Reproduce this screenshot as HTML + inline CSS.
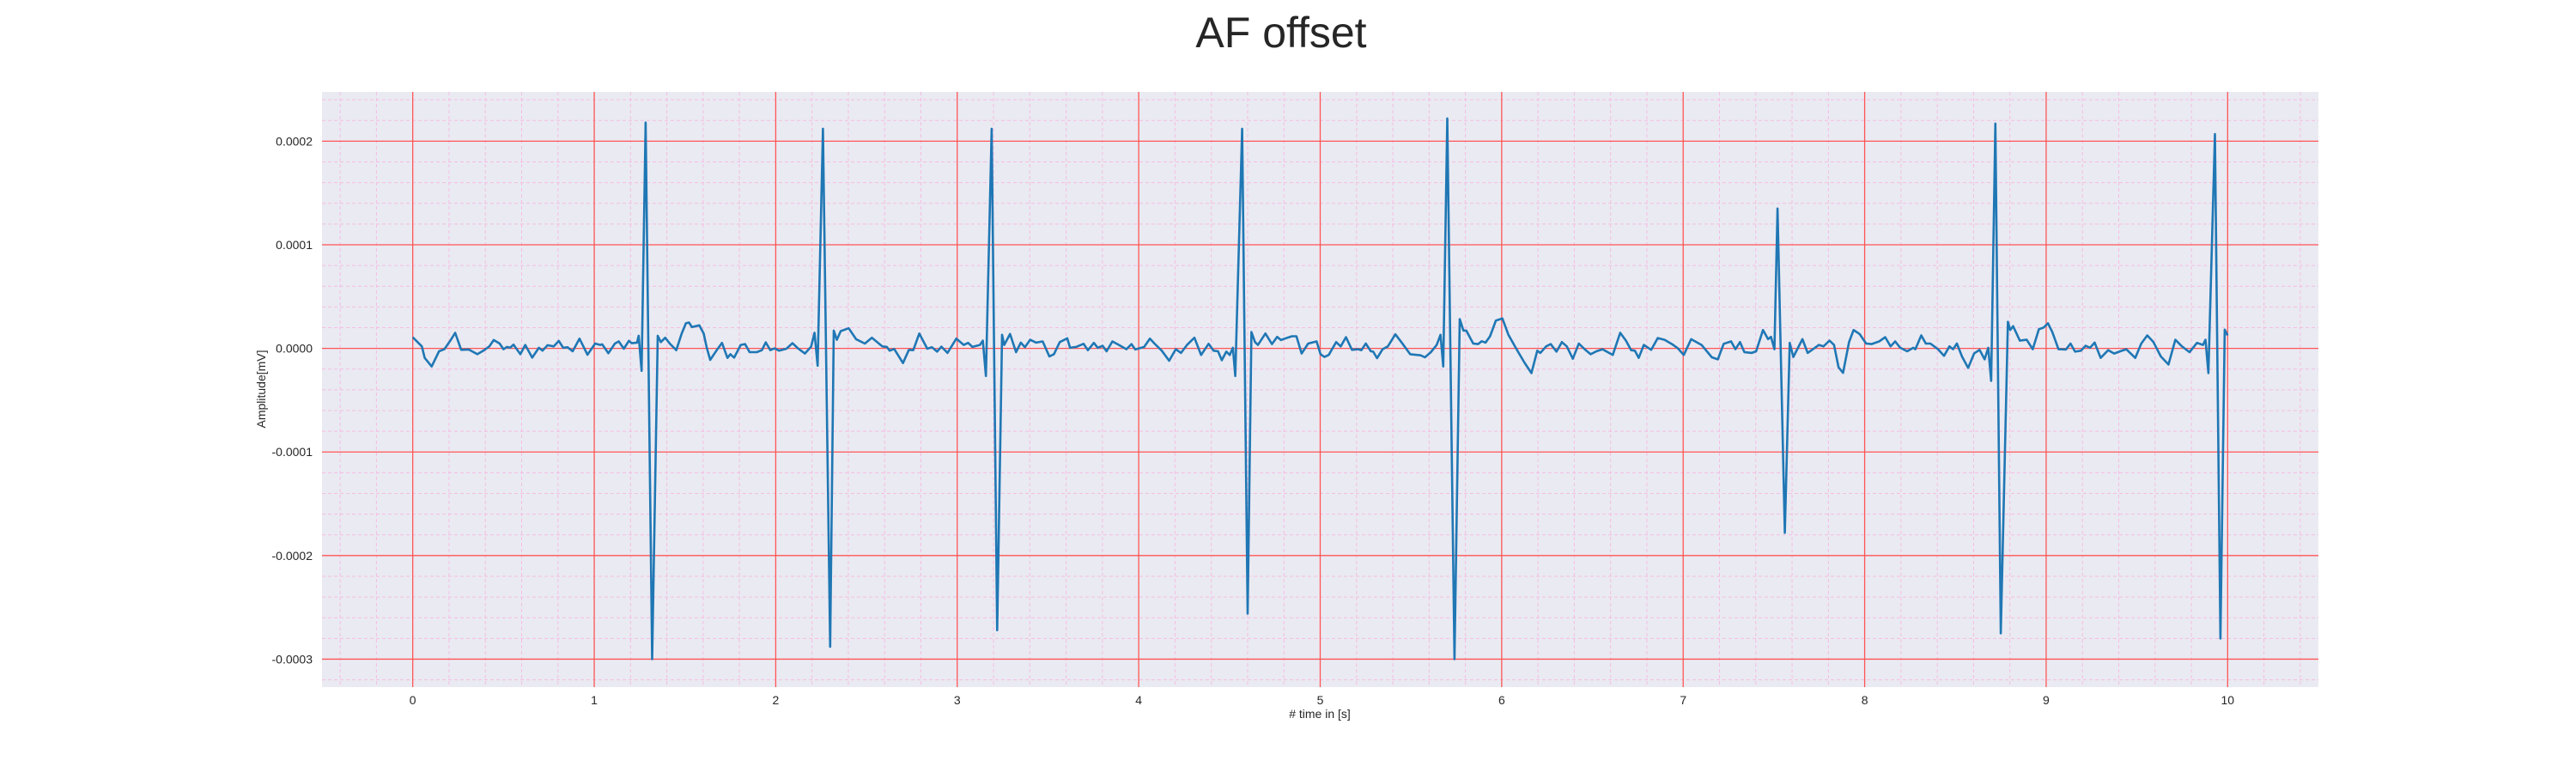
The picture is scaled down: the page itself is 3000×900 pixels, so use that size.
<!DOCTYPE html>
<html><head><meta charset="utf-8"><style>
html,body{margin:0;padding:0;background:#fff;}
svg{display:block;font-family:"Liberation Sans",sans-serif;}
</style></head><body>
<svg id="chart" width="3000" height="900" viewBox="0 0 3000 900">
<text x="1492" y="55" font-size="50" text-anchor="middle" fill="#262626">AF offset</text>
<rect x="375" y="107" width="2325" height="693" fill="#eaeaf2"/>
<g id="grid"></g>
<g id="ticks"></g>
<text x="1537" y="836" font-size="14" text-anchor="middle" fill="#262626"># time in [s]</text>
<text transform="translate(309,453) rotate(-90)" font-size="14" text-anchor="middle" fill="#262626">Amplitude[mV]</text>
<path id="ecg" fill="none" stroke="#1f77b4" stroke-width="2.6" stroke-linejoin="round"/>
</svg>
<script>
// time in seconds
const timeS = [0,.031,.05,.066,.104,.145,.174,.21,.234,.267,.308,.356,.389,.422,.446,.479,.5,.519,.536,.555,.593,.62,.658,.695,.715,.743,.777,.805,.829,.853,.881,.919,.963,1.005,1.033,1.044,1.078,1.114,1.135,1.163,1.191,1.207,1.236,1.245,1.261,1.283,1.319,1.35,1.367,1.391,1.416,1.452,1.481,1.505,1.522,1.538,1.579,1.603,1.62,1.639,1.673,1.704,1.734,1.75,1.771,1.807,1.831,1.856,1.896,1.924,1.945,1.97,1.994,2.019,2.059,2.092,2.125,2.161,2.195,2.214,2.231,2.26,2.30,2.32,2.337,2.358,2.402,2.443,2.491,2.53,2.587,2.612,2.628,2.653,2.701,2.734,2.758,2.791,2.835,2.861,2.889,2.913,2.946,2.995,3.036,3.06,3.084,3.125,3.141,3.158,3.19,3.22,3.247,3.259,3.291,3.324,3.35,3.373,3.402,3.435,3.471,3.508,3.533,3.565,3.606,3.622,3.655,3.696,3.72,3.753,3.774,3.801,3.823,3.855,3.891,3.932,3.96,3.981,4.03,4.062,4.087,4.127,4.168,4.204,4.233,4.266,4.307,4.344,4.385,4.413,4.437,4.458,4.483,4.502,4.519,4.532,4.57,4.60,4.621,4.641,4.657,4.698,4.734,4.763,4.784,4.804,4.844,4.869,4.898,4.934,4.98,5.002,5.023,5.047,5.088,5.113,5.142,5.175,5.21,5.227,5.251,5.279,5.292,5.313,5.344,5.373,5.414,5.447,5.496,5.553,5.577,5.61,5.642,5.663,5.678,5.70,5.74,5.769,5.789,5.805,5.843,5.87,5.89,5.911,5.936,5.968,6.004,6.037,6.082,6.126,6.164,6.196,6.213,6.245,6.27,6.302,6.332,6.359,6.392,6.425,6.457,6.49,6.522,6.555,6.612,6.653,6.685,6.713,6.734,6.755,6.783,6.824,6.86,6.897,6.938,6.971,7.003,7.044,7.101,7.158,7.191,7.223,7.264,7.288,7.313,7.337,7.378,7.402,7.44,7.468,7.484,7.503,7.52,7.56,7.587,7.607,7.657,7.686,7.715,7.748,7.773,7.806,7.831,7.856,7.881,7.914,7.939,7.972,8.008,8.038,8.08,8.113,8.143,8.168,8.196,8.234,8.268,8.279,8.312,8.337,8.362,8.404,8.437,8.467,8.487,8.508,8.536,8.57,8.603,8.633,8.661,8.681,8.697,8.72,8.75,8.789,8.802,8.818,8.855,8.893,8.926,8.96,8.985,9.01,9.034,9.068,9.109,9.134,9.159,9.192,9.217,9.242,9.267,9.3,9.342,9.375,9.408,9.441,9.491,9.524,9.557,9.591,9.632,9.674,9.712,9.748,9.79,9.831,9.864,9.878,9.894,9.93,9.96,9.984,10.0];
// amplitude in units of 1e-5 mV
const amplitudeE5 = [1.08,.53,.19,-.92,-1.75,-.28,-.08,.83,1.5,-.14,-.11,-.56,-.22,.19,.81,.47,-.08,.14,.06,.36,-.56,.33,-.89,.06,-.22,.31,.19,.72,.06,.11,-.28,.94,-.61,.47,.33,.39,-.47,.47,.67,-.03,.72,.5,.56,1.22,-2.17,21.8,-30,1.22,.61,1.03,.47,-.17,1.39,2.42,2.5,2.06,2.22,1.44,.06,-1.11,-.22,.53,-.92,-.56,-.89,.33,.42,-.36,-.36,-.17,.58,-.17,0,-.22,-.03,.5,-.03,-.5,.17,1.5,-1.67,21.2,-28.8,1.72,.83,1.67,1.94,.89,.47,1.03,.19,.14,-.22,-.06,-1.42,-.14,-.17,1.44,-.03,.11,-.31,.17,-.44,.94,.33,.53,.14,.33,.75,-2.67,21.2,-27.2,1.31,.33,1.39,-.36,.56,.11,.83,.56,.67,-.78,-.56,.61,.97,.06,.14,.44,-.17,.53,.06,.25,-.28,.67,.33,-.08,.42,-.11,.14,.94,.47,-.22,-1.19,-.08,-.44,.33,1.03,-.64,.44,-.22,-.28,-1.14,-.31,-.64,.06,-2.67,21.2,-25.6,1.58,.61,.33,1.44,.42,1.11,.81,.94,1.17,1.17,-.5,.47,.67,-.56,-.83,-.64,.61,.19,1.08,-.14,-.08,-.17,.47,-.28,-.31,-.94,-.08,.19,1.36,.61,-.56,-.67,-.86,-.36,.33,1.31,-1.75,22.2,-30,2.83,1.72,1.72,.47,.42,.69,.56,1.17,2.69,2.89,1.31,-.08,-1.39,-2.39,-.22,-.44,.19,.42,-.31,.61,.19,-1.0,.47,-.08,-.56,-.28,-.08,-.64,1.5,.75,-.17,-.22,-.92,.33,-.14,1.0,.83,.42,0,-.64,.89,.33,-.86,-1.06,.44,.67,-.08,.61,-.36,-.44,-.28,1.78,.89,1.11,-.08,13.5,-17.8,.53,-.83,.89,-.44,-.08,.33,.19,.75,.33,-1.83,-2.36,.61,1.78,1.39,.47,.42,.67,1.08,.19,.67,.06,-.28,.06,-.08,1.25,.47,.47,-.08,-.72,.19,-.08,.47,-.78,-1.89,-.5,-.14,-1.06,.06,-3.14,21.7,-27.5,2.56,1.78,2.14,.75,.83,-.08,1.86,2.0,2.42,1.58,-.08,-.11,.47,-.31,-.22,.25,.06,.56,-.92,-.17,-.5,-.28,-.08,-.92,.47,1.25,.61,-.78,-1.56,.83,.19,-.36,.53,.33,.83,-2.39,20.7,-28,1.81,1.25];
const xTickValues = [0,1,2,3,4,5,6,7,8,9,10];
const yTickValues = [0.0002,0.0001,0,-0.0001,-0.0002,-0.0003];
const yTickLabels = ["0.0002","0.0001","0.0000","-0.0001","-0.0002","-0.0003"];
const xDomain = [-0.5,10.5];
const yDomain = [-3.27e-4,2.476e-4];

const L=375,R=2700,T=107,B=800;
const xS = t => L + (t - xDomain[0]) / (xDomain[1]-xDomain[0]) * (R-L);
const yS = v => B - (v - yDomain[0]) / (yDomain[1]-yDomain[0]) * (B-T);
const NS="http://www.w3.org/2000/svg";
const grid=document.getElementById('grid'), ticks=document.getElementById('ticks');
function line(x1,y1,x2,y2,stroke,w,dash,name){
  const l=document.createElementNS(NS,'line');
  l.setAttribute('x1',x1);l.setAttribute('y1',y1);l.setAttribute('x2',x2);l.setAttribute('y2',y2);
  l.setAttribute('stroke',stroke);l.setAttribute('stroke-width',w);
  if(dash)l.setAttribute('stroke-dasharray',dash);
  
  
  grid.appendChild(l);
}
// minor grid
for(let i=-2;i<=52;i++){const t=i*0.2;if(Math.abs(t-Math.round(t))<1e-6)continue;const x=xS(t);if(x<L||x>R)continue;line(x,T,x,B,'#f5bde2',1,'4,3','minor-grid-x');}
for(let i=-16;i<=12;i++){const v=i*2e-5;if(i%5===0)continue;const y=yS(v);if(y<T||y>B)continue;line(L,y,R,y,'#f5bde2',1,'4,3','minor-grid-y');}
// major grid + labels
xTickValues.forEach(t=>{const x=xS(t);line(x,T,x,B,'#ff5555',1.3,null,'major-grid-x');
  const tx=document.createElementNS(NS,'text');tx.setAttribute('x',x);tx.setAttribute('y',820);tx.setAttribute('font-size','14');tx.setAttribute('text-anchor','middle');tx.setAttribute('fill','#262626');tx.textContent=t;
  
  
  ticks.appendChild(tx);});
yTickValues.forEach((v,i)=>{const y=yS(v);line(L,y,R,y,'#ff5555',1.3,null,'major-grid-y');
  const tx=document.createElementNS(NS,'text');tx.setAttribute('x',364);tx.setAttribute('y',y+5);tx.setAttribute('font-size','14');tx.setAttribute('text-anchor','end');tx.setAttribute('fill','#262626');tx.textContent=yTickLabels[i];
  
  
  ticks.appendChild(tx);});
// signal
let d='';
for(let i=0;i<timeS.length;i++){d+=(i?'L':'M')+xS(timeS[i]).toFixed(1)+','+yS(amplitudeE5[i]*1e-5).toFixed(1);}
document.getElementById('ecg').setAttribute('d',d);
</script>
</body></html>
